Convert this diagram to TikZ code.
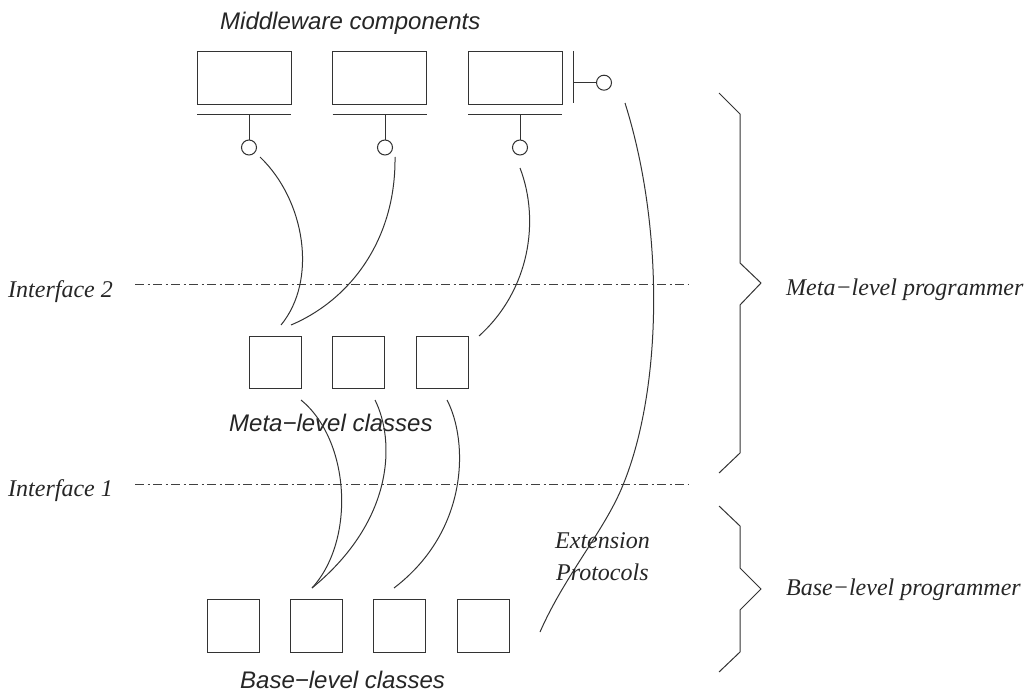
\documentclass[tikz,border=0pt]{standalone}
\usepackage{fontspec}
\setmainfont{Liberation Serif}
\newfontfamily\hvfont{Liberation Sans}
\begin{document}
\begin{tikzpicture}[x=1pt,y=-1pt,
  ln/.style={draw=black!80, line width=1pt},
  comp/.style={ln, rectangle, inner sep=0pt, outer sep=0pt, minimum width=94pt, minimum height=53pt},
  cls/.style={ln, rectangle, inner sep=0pt, outer sep=0pt, minimum width=52pt, minimum height=52pt},
  port/.style={ln, circle, inner sep=0pt, outer sep=0pt, minimum size=15pt},
  iface/.style={draw=black!75, line width=1pt, dash pattern=on 9pt off 3.5pt on 2pt off 3.5pt},
  sanslbl/.style={font=\hvfont\itshape\fontsize{24}{28}\selectfont, text=black!85, inner sep=0pt, anchor=base west},
  seriflbl/.style={font=\itshape\fontsize{24}{28}\selectfont, text=black!85, inner sep=0pt, anchor=base west},
  conn/.style={ln}
]
\useasboundingbox (0,0) rectangle (1036,698);

% Middleware components
\node[comp] (m1) at (244,77.7) {};
\node[comp] (m2) at (379.7,77.7) {};
\node[comp] (m3) at (515,77.7) {};
\node[sanslbl] (tmw) at (220,30) {Middleware components};

% bars under components
\draw[ln] ([yshift=-10pt]m1.south west) -- ([yshift=-10pt]m1.south east);
\draw[ln] ([yshift=-10pt]m2.south west) -- ([yshift=-10pt]m2.south east);
\draw[ln] ([yshift=-10pt]m3.south west) -- ([yshift=-10pt]m3.south east);

% ports
\node[port] (c1) at (249,147.5) {};
\node[port] (c2) at (385,147.5) {};
\node[port] (c3) at (520,147.5) {};
\node[port] (c4) at (604,82.7) {};
\draw[ln] (c1.north) -- (249,114);
\draw[ln] (c2.north) -- (385,114);
\draw[ln] (c3.north) -- (520,114);
% side port of third component
\draw[ln] (573,51) -- (573,103);
\draw[ln] (c4.west) -- (573,82.7);

% Meta-level classes
\node[cls] (k1) at (275,362.5) {};
\node[cls] (k2) at (358,362.5) {};
\node[cls] (k3) at (442,362.5) {};
\node[sanslbl] (tml) at (229,431) {Meta−level classes};

% Base-level classes
\node[cls, minimum height=53pt] (b1) at (233,625.5) {};
\node[cls, minimum height=53pt] (b2) at (316.5,625.5) {};
\node[cls, minimum height=53pt] (b3) at (399.5,625.5) {};
\node[cls, minimum height=53pt] (b4) at (483,625.5) {};
\node[sanslbl] (tbl) at (240,688) {Base−level classes};

% Interfaces
\node[seriflbl] (i2) at (8,297) {Interface 2};
\node[seriflbl] (i1) at (8,496) {Interface 1};
\draw[iface] (135,284) -- (688,284);
\draw[iface] (135,484) -- (688,484);

% curve end coordinates
\coordinate (s1) at (260,157);
\coordinate (e1) at (281,325);
\coordinate (s2) at (395,157);
\coordinate (e2) at (291,325);
\coordinate (s3) at (520,168);
\coordinate (e3) at (479,336);
\coordinate (sa) at (301,400);
\coordinate (sb) at (375,400);
\coordinate (sc) at (447,400);
\coordinate (ea) at (312,588);
\coordinate (ec) at (394,588);

% component ports -> meta-level classes
\draw[conn] (s1) .. controls (305,200) and (318,280) .. (e1);
\draw[conn] (s2) .. controls (396,240) and (350,300) .. (e2);
\draw[conn] (s3) .. controls (540,220) and (530,290) .. (e3);

% meta-level -> base-level
\draw[conn] (sa) .. controls (350,440) and (356,540) .. (ea);
\draw[conn] (sb) .. controls (395,440) and (395,520) .. (ea);
\draw[conn] (sc) .. controls (468,440) and (470,530) .. (ec);

% extension protocols curve
\coordinate (xs) at (625,103);
\coordinate (xm) at (623,485);
\coordinate (xe) at (540,632);
\draw[conn] (xs) .. controls (665,230) and (662,390) .. (xm)
                 .. controls (605,530) and (565,575) .. (xe);
\node[seriflbl] (ext1) at (555,548) {Extension};
\node[seriflbl] (ext2) at (556,580) {Protocols};

% braces
\draw[ln] (719,93) -- (740,114) -- (740,263) -- (761,283) -- (740,305) -- (740,453) -- (719,473);
\draw[ln] (719,506) -- (740,526) -- (740,568) -- (761,589) -- (740,610) -- (740,652) -- (719,672);
\node[seriflbl] (mlp) at (786,295) {Meta−level programmer};
\node[seriflbl] (blp) at (786,595) {Base−level programmer};
\end{tikzpicture}
\end{document}
